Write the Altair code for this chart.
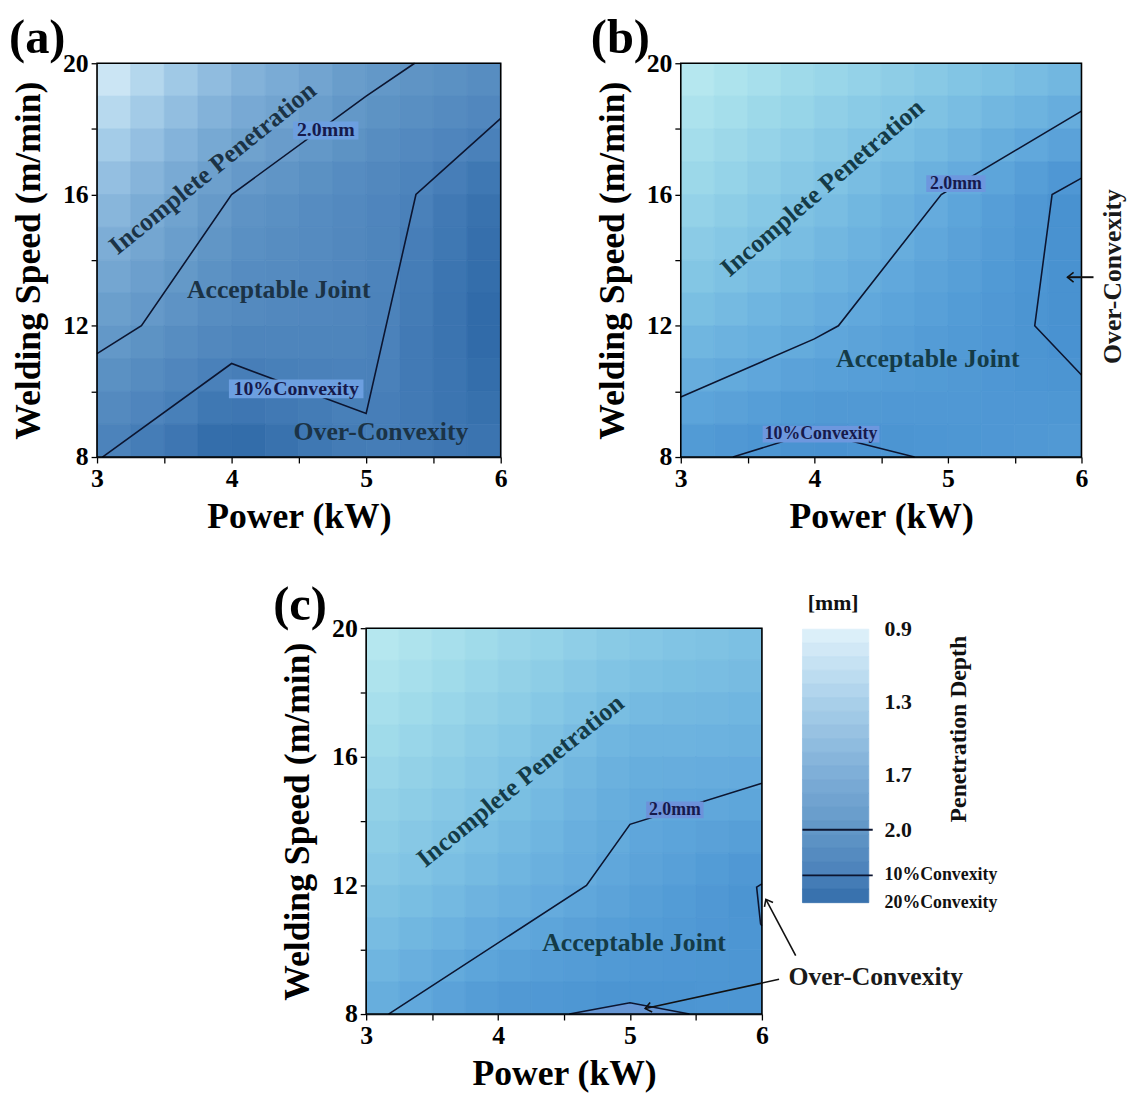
import altair as alt
import pandas as pd

FONT = "Liberation Serif"

# ---------------- data ----------------
power_edges = [3.0, 3.25, 3.5, 3.75, 4.0, 4.25, 4.5, 4.75, 5.0, 5.25, 5.5, 5.75, 6.0]
speed_edges = [20, 19, 18, 17, 16, 15, 14, 13, 12, 11, 10, 9, 8]   # top -> bottom
x_ticks = [3, 3.5, 4, 4.5, 5, 5.5, 6]
y_ticks = [8, 10, 12, 14, 16, 18, 20]

# penetration depth (mm) per cell, rows top (19-20 m/min) -> bottom (8-9), columns 3 -> 6 kW
depth_a = [
    [1.05, 1.22, 1.38, 1.53, 1.65, 1.74, 1.83, 1.92, 1.99, 2.03, 2.07, 2.11],
    [1.20, 1.36, 1.51, 1.65, 1.76, 1.83, 1.91, 1.99, 2.05, 2.09, 2.14, 2.18],
    [1.35, 1.50, 1.64, 1.77, 1.86, 1.93, 1.99, 2.05, 2.11, 2.16, 2.20, 2.25],
    [1.50, 1.63, 1.75, 1.88, 1.97, 2.02, 2.07, 2.12, 2.17, 2.22, 2.27, 2.32],
    [1.61, 1.73, 1.85, 1.96, 2.04, 2.08, 2.12, 2.16, 2.20, 2.25, 2.31, 2.36],
    [1.71, 1.81, 1.91, 2.01, 2.08, 2.11, 2.14, 2.17, 2.21, 2.27, 2.32, 2.38],
    [1.81, 1.89, 1.98, 2.06, 2.12, 2.14, 2.16, 2.18, 2.22, 2.28, 2.34, 2.39],
    [1.90, 1.97, 2.04, 2.11, 2.15, 2.17, 2.18, 2.19, 2.23, 2.29, 2.35, 2.41],
    [1.99, 2.05, 2.11, 2.17, 2.21, 2.21, 2.21, 2.21, 2.24, 2.30, 2.35, 2.41],
    [2.07, 2.13, 2.19, 2.25, 2.27, 2.26, 2.25, 2.24, 2.25, 2.30, 2.34, 2.39],
    [2.15, 2.20, 2.26, 2.32, 2.33, 2.31, 2.29, 2.26, 2.27, 2.30, 2.34, 2.37],
    [2.23, 2.28, 2.33, 2.39, 2.40, 2.36, 2.32, 2.29, 2.28, 2.30, 2.33, 2.35],
]
depth_b = [
    [1.08, 1.16, 1.23, 1.31, 1.38, 1.44, 1.51, 1.57, 1.64, 1.70, 1.76, 1.82],
    [1.17, 1.25, 1.33, 1.40, 1.48, 1.55, 1.61, 1.68, 1.75, 1.82, 1.88, 1.95],
    [1.26, 1.34, 1.42, 1.50, 1.57, 1.65, 1.72, 1.79, 1.86, 1.94, 2.01, 2.08],
    [1.35, 1.43, 1.51, 1.59, 1.67, 1.75, 1.82, 1.90, 1.97, 2.05, 2.13, 2.21],
    [1.44, 1.52, 1.60, 1.68, 1.75, 1.83, 1.90, 1.97, 2.05, 2.13, 2.20, 2.28],
    [1.54, 1.61, 1.68, 1.75, 1.82, 1.89, 1.95, 2.02, 2.09, 2.15, 2.22, 2.28],
    [1.63, 1.70, 1.76, 1.83, 1.89, 1.95, 2.01, 2.07, 2.12, 2.18, 2.23, 2.28],
    [1.73, 1.79, 1.85, 1.90, 1.96, 2.01, 2.06, 2.11, 2.16, 2.20, 2.24, 2.28],
    [1.84, 1.89, 1.93, 1.98, 2.03, 2.07, 2.11, 2.15, 2.18, 2.21, 2.24, 2.27],
    [1.95, 1.99, 2.03, 2.08, 2.11, 2.13, 2.15, 2.17, 2.19, 2.21, 2.23, 2.24],
    [2.06, 2.09, 2.13, 2.17, 2.19, 2.19, 2.20, 2.20, 2.20, 2.21, 2.21, 2.22],
    [2.17, 2.20, 2.23, 2.26, 2.27, 2.25, 2.24, 2.23, 2.22, 2.21, 2.20, 2.19],
]
depth_c = [
    [1.08, 1.15, 1.23, 1.30, 1.37, 1.43, 1.50, 1.56, 1.61, 1.65, 1.68, 1.71],
    [1.15, 1.23, 1.30, 1.38, 1.45, 1.52, 1.59, 1.65, 1.70, 1.73, 1.75, 1.77],
    [1.23, 1.30, 1.38, 1.45, 1.52, 1.60, 1.67, 1.74, 1.79, 1.81, 1.82, 1.84],
    [1.30, 1.38, 1.45, 1.53, 1.60, 1.68, 1.76, 1.84, 1.88, 1.88, 1.89, 1.90],
    [1.37, 1.45, 1.52, 1.59, 1.67, 1.75, 1.82, 1.90, 1.94, 1.95, 1.96, 1.97],
    [1.45, 1.52, 1.59, 1.66, 1.73, 1.80, 1.87, 1.94, 1.99, 2.01, 2.02, 2.04],
    [1.52, 1.59, 1.66, 1.72, 1.79, 1.85, 1.92, 1.98, 2.03, 2.06, 2.09, 2.12],
    [1.59, 1.66, 1.72, 1.79, 1.85, 1.91, 1.96, 2.02, 2.07, 2.11, 2.16, 2.20],
    [1.68, 1.74, 1.80, 1.87, 1.92, 1.97, 2.02, 2.07, 2.12, 2.16, 2.20, 2.24],
    [1.76, 1.83, 1.89, 1.96, 2.01, 2.05, 2.09, 2.13, 2.16, 2.18, 2.21, 2.23],
    [1.85, 1.92, 1.99, 2.05, 2.10, 2.13, 2.15, 2.18, 2.20, 2.21, 2.22, 2.23],
    [1.94, 2.01, 2.08, 2.14, 2.19, 2.20, 2.22, 2.24, 2.24, 2.24, 2.23, 2.23],
]

level_values = [0.9, 1.3, 1.7, 2.0, 2.25, 2.45]
colors_a = ["#e0f2fa", "#a9d0ea", "#7eaed7", "#6297c7", "#4a81ba", "#2b66a5"]
colors_bc = ["#c6f1f3", "#a0dbea", "#7dc1e3", "#62a9dc", "#4b94d2", "#3b84c6"]

# contour lines (power kW, speed m/min)
a_lines = [
    ([3.0, 3.33, 4.0, 5.0, 5.36], [11.15, 12.0, 16.0, 19.0, 20.0]),          # 2.0 mm
    ([3.04, 4.0, 5.0, 5.37, 6.0], [8.0, 10.85, 9.33, 16.0, 18.32]),         # 10% convexity
]
b_lines = [
    ([3.0, 4.0, 4.18, 4.95, 6.0], [9.83, 11.6, 12.0, 16.0, 18.54]),
    ([6.0, 5.78, 5.65, 6.0], [16.5, 16.0, 12.0, 10.5]),
    ([3.39, 4.0, 4.75], [8.0, 8.77, 8.0]),
]
c_lines = [
    ([3.17, 4.67, 5.0, 6.0], [8.0, 12.0, 13.9, 15.18]),
    ([4.54, 5.0, 5.45], [8.0, 8.35, 8.0]),
    ([6.0, 5.96, 5.99, 6.0], [12.05, 11.95, 10.8, 10.75]),
]
c_patch_p = [4.54, 5.0, 5.45]
c_patch_v = [8.0, 8.35, 8.0]

# contour labels: text, power, speed, box width, box height
a_clabels = [("2.0mm", 4.70, 17.95, 66, 18), ("10%Convexity", 4.48, 10.08, 136, 19)]
b_clabels = [("2.0mm", 5.06, 16.33, 60, 17), ("10%Convexity", 4.05, 8.70, 118, 17)]
c_clabels = [("2.0mm", 5.34, 14.35, 58, 17)]

# region labels: text, power, speed, angle
a_regions = [("Incomplete Penetration", 3.86, 16.8, 321), ("Acceptable Joint", 4.35, 13.1, 0),
             ("Over-Convexity", 5.11, 8.75, 0)]
b_regions = [("Incomplete Penetration", 4.06, 16.2, 319.5), ("Acceptable Joint", 4.85, 11.0, 0)]
c_regions = [("Incomplete Penetration", 4.17, 15.25, 321), ("Acceptable Joint", 5.03, 10.2, 0)]

# outside annotations
b_note = [("Over-Convexity", 6.24, 13.5, 270)]
b_arrows = [([6.09, 5.895], [13.48, 13.48])]
b_heads = ([5.895], [13.48], [270])
c_note = [("Over-Convexity", 6.863, 9.15, 0)]
c_arrows = [([6.256, 6.03], [9.82, 11.57]), ([6.13, 5.115], [9.08, 8.17])]
c_heads = ([6.03, 5.115], [11.57, 8.17], [332, 258])

legend_edges = [0.9, 0.975, 1.05, 1.125, 1.2, 1.275, 1.35, 1.425, 1.5, 1.575, 1.65,
                1.725, 1.8, 1.875, 1.95, 2.025, 2.1, 2.175, 2.25, 2.325, 2.4]
legend_ticks = [0.9, 1.3, 1.7, 2.0, 2.25, 2.4]
legend_tick_text = ["0.9", "1.3", "1.7", "2.0", "10%Convexity", "20%Convexity"]
legend_tick_size = [22, 22, 22, 22, 18, 18]
legend_lines = [2.0, 2.25]

# ---------------- helpers ----------------
XS = alt.Scale(domain=[3, 6], nice=False, zero=False)
YS = alt.Scale(domain=[8, 20], nice=False, zero=False)
AX = alt.Axis(values=x_ticks, title="Power (kW)",
              labelExpr="datum.value % 1 == 0 ? format(datum.value, 'd') : ''")
AY = alt.Axis(values=y_ticks, title="Welding Speed (m/min)",
              labelExpr="datum.value % 4 == 0 ? format(datum.value, 'd') : ''")
LINE_COL = "#0c1530"
CHEVRON = "M-0.75,0.95L0,0L0.75,0.95"


def X(f):
    return alt.X(f, type="quantitative", scale=XS, axis=AX)


def Y(f):
    return alt.Y(f, type="quantitative", scale=YS, axis=AY)


def heat_layer(depth, colors):
    rows = []
    for r, row in enumerate(depth):
        for c, d in enumerate(row):
            rows.append({"p0": power_edges[c], "p1": power_edges[c + 1],
                         "v0": speed_edges[r + 1], "v1": speed_edges[r], "d": d})
    cs = alt.Scale(domain=level_values, range=colors, interpolate="rgb", clamp=True)
    return alt.Chart(pd.DataFrame(rows)).mark_rect(strokeWidth=0.8).encode(
        x=X("p0"), x2="p1", y=Y("v0"), y2="v1",
        color=alt.Color("d:Q", scale=cs, legend=None),
        stroke=alt.Stroke("d:Q", scale=cs, legend=None))


def line_layer(lines, width=1.6, color=LINE_COL):
    rows = []
    for g, (ps, vs) in enumerate(lines):
        for i, (p, v) in enumerate(zip(ps, vs)):
            rows.append({"g": g, "i": i, "p": p, "v": v})
    return alt.Chart(pd.DataFrame(rows)).mark_line(color=color, strokeWidth=width).encode(
        x=X("p"), y=Y("v"), detail="g:N", order="i:Q")


def frame_layer():
    return alt.Chart(pd.DataFrame({"p0": [x_ticks[0]], "p1": [x_ticks[-1]],
                                   "v0": [y_ticks[0]], "v1": [y_ticks[-1]]})).mark_rect(
        filled=False, stroke="black", strokeWidth=1.6).encode(
        x=X("p0"), x2="p1", y=Y("v0"), y2="v1")


def clabel_layers(labels, size, box_col):
    out = []
    for t, p, v, w, h in labels:
        df = pd.DataFrame({"p": [p], "v": [v], "t": [t]})
        out.append(alt.Chart(df).mark_rect(width=w, height=h, color=box_col).encode(
            x=X("p"), y=Y("v")))
        out.append(alt.Chart(df).mark_text(font=FONT, fontSize=size, fontWeight="bold",
                                           color="#161a4c").encode(
            x=X("p"), y=Y("v"), text="t:N"))
    return out


def text_layer(items, size, color):
    df = pd.DataFrame(items, columns=["t", "p", "v", "ang"])
    return alt.Chart(df).mark_text(font=FONT, fontSize=size, fontWeight="bold", color=color).encode(
        x=X("p"), y=Y("v"), text="t:N", angle=alt.Angle("ang:Q", scale=None))


def head_layer(heads):
    ps, vs, angs = heads
    df = pd.DataFrame({"p": ps, "v": vs, "ang": angs})
    return alt.Chart(df).mark_point(shape=CHEVRON, filled=False, size=170, strokeWidth=1.6,
                                    color="#111111", opacity=1).encode(
        x=X("p"), y=Y("v"), angle=alt.Angle("ang:Q", scale=None))


def tag_layer(label, dx, dy):
    return alt.Chart(pd.DataFrame({"t": [label]})).mark_text(
        font=FONT, fontSize=49, fontWeight="bold", align="left", baseline="alphabetic",
        color="black").encode(x=alt.value(dx), y=alt.value(dy), text="t:N")


REG_A = "#1b3346"
REG_BC = "#143b47"

# ---------------- panel (a) ----------------
A = alt.layer(
    heat_layer(depth_a, colors_a),
    line_layer(a_lines),
    *clabel_layers(a_clabels, 20, "#6c9fe0"),
    text_layer(a_regions, 26, REG_A),
    frame_layer(),
    tag_layer("(a)", -89, -10),
).properties(width=408, height=398)

# ---------------- panel (b) ----------------
B = alt.layer(
    heat_layer(depth_b, colors_bc),
    line_layer(b_lines),
    *clabel_layers(b_clabels, 18, "#6d97de"),
    text_layer(b_regions, 26, REG_BC),
    frame_layer(),
    line_layer(b_arrows, 2.0, "#111111"),
    head_layer(b_heads),
    text_layer(b_note, 26, "#1a1a1a"),
    tag_layer("(b)", -91, -10),
).properties(width=405, height=398)

# ---------------- panel (c) + legend ----------------
patch = alt.Chart(pd.DataFrame({"p": c_patch_p, "v": c_patch_v})).mark_area(
    color="#7b97d6", opacity=0.55).encode(x=X("p"), y=Y("v"), y2=alt.Y2(datum=8))

C_main = alt.layer(
    heat_layer(depth_c, colors_bc),
    patch,
    line_layer(c_lines),
    *clabel_layers(c_clabels, 18, "#6d92da"),
    text_layer(c_regions, 26, REG_BC),
    frame_layer(),
    line_layer(c_arrows, 1.6, "#111111"),
    head_layer(c_heads),
    text_layer(c_note, 26, "#1a1a1a"),
    tag_layer("(c)", -94, -8),
)

LY = alt.Scale(domain=[0.8945, 3.011], reverse=True, nice=False, zero=False)
CS_A = alt.Scale(domain=level_values, range=colors_a, interpolate="rgb", clamp=True)
leg_df = pd.DataFrame({"lo": legend_edges[:-1], "hi": legend_edges[1:]})
leg_rect = alt.Chart(leg_df).transform_calculate(mid="(datum.lo + datum.hi) / 2").mark_rect(
    strokeWidth=0.8).encode(
    x=alt.value(441), x2=alt.value(508),
    y=alt.Y("lo:Q", scale=LY, axis=None), y2="hi:Q",
    color=alt.Color("mid:Q", scale=CS_A, legend=None),
    stroke=alt.Stroke("mid:Q", scale=CS_A, legend=None))
leg_rule = alt.Chart(pd.DataFrame({"v": legend_lines})).mark_rule(
    color=LINE_COL, strokeWidth=1.8).encode(
    x=alt.value(441), x2=alt.value(512), y=alt.Y("v:Q", scale=LY, axis=None))
leg_text = alt.Chart(pd.DataFrame({"v": legend_ticks, "t": legend_tick_text,
                                   "s": legend_tick_size})).mark_text(
    font=FONT, fontWeight="bold", align="left", baseline="middle", color="#111111").encode(
    x=alt.value(524), y=alt.Y("v:Q", scale=LY, axis=None), text="t:N",
    size=alt.Size("s:Q", scale=None))
leg_title = alt.Chart(pd.DataFrame({"t": ["[mm]"]})).mark_text(
    font=FONT, fontSize=22, fontWeight="bold", color="#111111", baseline="middle").encode(
    x=alt.value(472), y=alt.value(-25), text="t:N")
leg_side = alt.Chart(pd.DataFrame({"t": ["Penetration Depth"]})).mark_text(
    font=FONT, fontSize=24, fontWeight="bold", angle=270, color="#111111",
    baseline="middle").encode(x=alt.value(599), y=alt.value(102), text="t:N")

LEG = alt.layer(leg_rect, leg_rule, leg_text, leg_title, leg_side)

C = alt.layer(C_main, LEG).resolve_scale(
    y="independent", color="independent", stroke="independent"
).properties(width=400, height=390)

spacer = alt.Chart(pd.DataFrame({"t": [""]})).mark_text().encode(
    text="t:N", x=alt.value(0), y=alt.value(0)
).properties(width=176, height=20, view=alt.ViewBackground(stroke="transparent"))

RES = dict(x="independent", y="independent", color="independent", stroke="independent")
row1 = alt.hconcat(A, B, spacing=83, center=False).resolve_scale(**RES)
row2 = alt.hconcat(spacer, C, spacing=0, center=False).resolve_scale(**RES)

chart = alt.vconcat(row1, row2, spacing=46, center=False).resolve_scale(**RES).configure_view(
    stroke="transparent"
).configure_axis(
    labelFont=FONT, labelFontSize=26, labelFontWeight="bold", labelColor="black",
    labelPadding=3, labelFlush=False,
    titleFont=FONT, titleFontSize=36, titleFontWeight="bold", titleColor="black",
    tickColor="black", tickWidth=1.3, tickSize=6, domainColor="black", domainWidth=1.5,
    grid=False, zindex=1
).configure_axisX(titlePadding=8).configure_axisY(titlePadding=15).properties(padding=0)

chart.save("out.html", embed_options={"renderer": "svg", "actions": False})
